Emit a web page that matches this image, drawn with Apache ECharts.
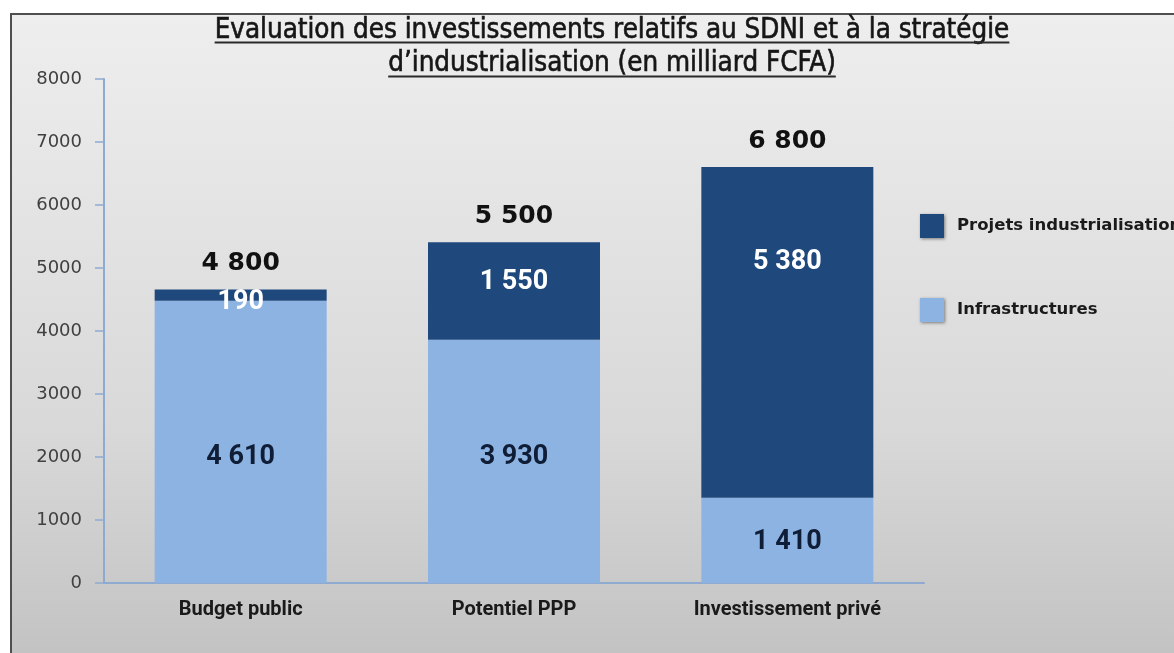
<!DOCTYPE html>
<html>
<head>
<meta charset="utf-8">
<script src="https://cdn.jsdelivr.net/npm/echarts@6/dist/echarts.min.js"></script>
<style>
  html, body { margin: 0; padding: 0; background: #fff; }
  #chart { width: 1174px; height: 653px; }
</style>
</head>
<body>
<div id="chart"></div>
<script>
// data
const categories = ['Budget public', 'Potentiel PPP', 'Investissement privé'];
// bar heights as drawn
const infrastructures = [4480, 3860, 1355];
const projets = [180, 1550, 5250];
// numbers printed on the chart
const infraLabels = ['4 610', '3 930', '1 410'];
const projetsLabels = ['190', '1 550', '5 380'];
const totalLabels = ['4 800', '5 500', '6 800'];

const titleLines = [
    'Evaluation des investissements relatifs au SDNI et à la stratégie',
    'd\u2019industrialisation (en milliard FCFA)'
];

// label nudges (px), the labels were moved by hand in the original
const infraNudge = [15, -4, 2];
const projetsNudge = [7, -9, -70];

const chart = echarts.init(document.getElementById('chart'));

const ctx = document.createElement('canvas').getContext('2d');
const measure = (text, font) => {
    ctx.font = font;
    return ctx.measureText(text).width;
};
const titleFamily = '"DejaVu Sans Condensed", "DejaVu Sans", sans-serif';
const baseW = measure(titleLines[0], '20px ' + titleFamily);
const titleSize = Math.round(20 * 795 / baseW * 10) / 10;
const titleFont = titleSize + 'px ' + titleFamily;
const titleX = 612;

const titleGraphics = [];
titleLines.forEach((line, i) => {
    const w = measure(line, titleFont);
    titleGraphics.push({
        type: 'text',
        z: 100,
        style: {
            text: line,
            x: titleX,
            y: 31 + i * 33,
            align: 'center',
            verticalAlign: 'middle',
            font: titleFont,
            fill: '#161616',
            stroke: '#161616',
            lineWidth: 0.6
        }
    });
    titleGraphics.push({
        type: 'line',
        z: 100,
        shape: { x1: titleX - w / 2, y1: 42.5 + i * 34, x2: titleX + w / 2, y2: 42.5 + i * 34 },
        style: { stroke: '#2a2a2a', lineWidth: 2 }
    });
});

const boldDigits = 'Roboto, "Noto Sans", sans-serif';
const wideFont = '"DejaVu Sans", sans-serif';

const option = {
    animation: false,
    graphic: [
        {
            type: 'rect',
            z: -100,
            shape: { x: 11, y: 14, width: 1200, height: 700 },
            style: {
                fill: new echarts.graphic.LinearGradient(0, 0, 0, 1, [
                    { offset: 0, color: '#eeeeee' },
                    { offset: 0.6, color: '#d8d8d8' },
                    { offset: 1, color: '#bdbdbd' }
                ]),
                stroke: '#4f4f4f',
                lineWidth: 2
            }
        },
        ...titleGraphics
    ],
    legend: {
        data: ['Projets industrialisation', 'Infrastructures'],
        orient: 'vertical',
        left: 915,
        top: 209,
        itemWidth: 24,
        itemHeight: 24,
        itemGap: 60,
        icon: 'rect',
        itemStyle: {
            shadowBlur: 3,
            shadowColor: 'rgba(0,0,0,0.45)',
            shadowOffsetX: 1,
            shadowOffsetY: 1
        },
        textStyle: {
            fontFamily: wideFont,
            fontWeight: 'bold',
            fontSize: 16.5,
            color: '#1a1a1a',
            padding: [0, 0, 0, 8]
        }
    },
    grid: {
        left: 104,
        right: 250,
        top: 79,
        bottom: 70,
        containLabel: false,
        outerBoundsMode: 'none'
    },
    xAxis: {
        type: 'category',
        data: categories,
        axisLine: { lineStyle: { color: '#8eaad0', width: 2 } },
        axisTick: { show: false },
        axisLabel: {
            margin: 17,
            fontFamily: boldDigits,
            fontWeight: 'bold',
            fontSize: 20,
            color: '#1a1a1a'
        }
    },
    yAxis: {
        type: 'value',
        min: 0,
        max: 8000,
        interval: 1000,
        splitLine: { show: false },
        axisLine: { show: true, lineStyle: { color: '#8eaad0', width: 2 } },
        axisTick: { show: true, length: 9, lineStyle: { color: '#8eaad0', width: 1.5 } },
        axisLabel: {
            margin: 22,
            fontFamily: wideFont,
            fontSize: 18,
            color: '#404040',
            formatter: v => String(v)
        }
    },
    series: [
        {
            name: 'Infrastructures',
            type: 'bar',
            stack: 'total',
            barWidth: 172,
            itemStyle: { color: '#8db3e2' },
            label: {
                show: true,
                position: 'inside',
                fontFamily: boldDigits,
                fontWeight: 'bold',
                fontSize: 27,
                color: '#0f1e36',
                formatter: p => infraLabels[p.dataIndex]
            },
            data: infrastructures.map((v, i) => ({ value: v, label: { offset: [0, infraNudge[i]] } }))
        },
        {
            name: 'Projets industrialisation',
            type: 'bar',
            stack: 'total',
            barWidth: 172,
            itemStyle: { color: '#1f497d' },
            label: {
                show: true,
                position: 'inside',
                fontFamily: boldDigits,
                fontWeight: 'bold',
                fontSize: 27,
                color: '#ffffff',
                formatter: p => projetsLabels[p.dataIndex]
            },
            data: projets.map((v, i) => ({ value: v, label: { offset: [0, projetsNudge[i]] } }))
        },
        {
            name: 'total',
            type: 'bar',
            stack: 'total',
            barWidth: 172,
            itemStyle: { color: 'transparent' },
            label: {
                show: true,
                position: 'top',
                distance: 13,
                fontFamily: wideFont,
                fontWeight: 'bold',
                fontSize: 25,
                color: '#111111',
                formatter: p => totalLabels[p.dataIndex]
            },
            data: categories.map(() => 0)
        }
    ]
};

chart.setOption(option);
</script>
</body>
</html>
